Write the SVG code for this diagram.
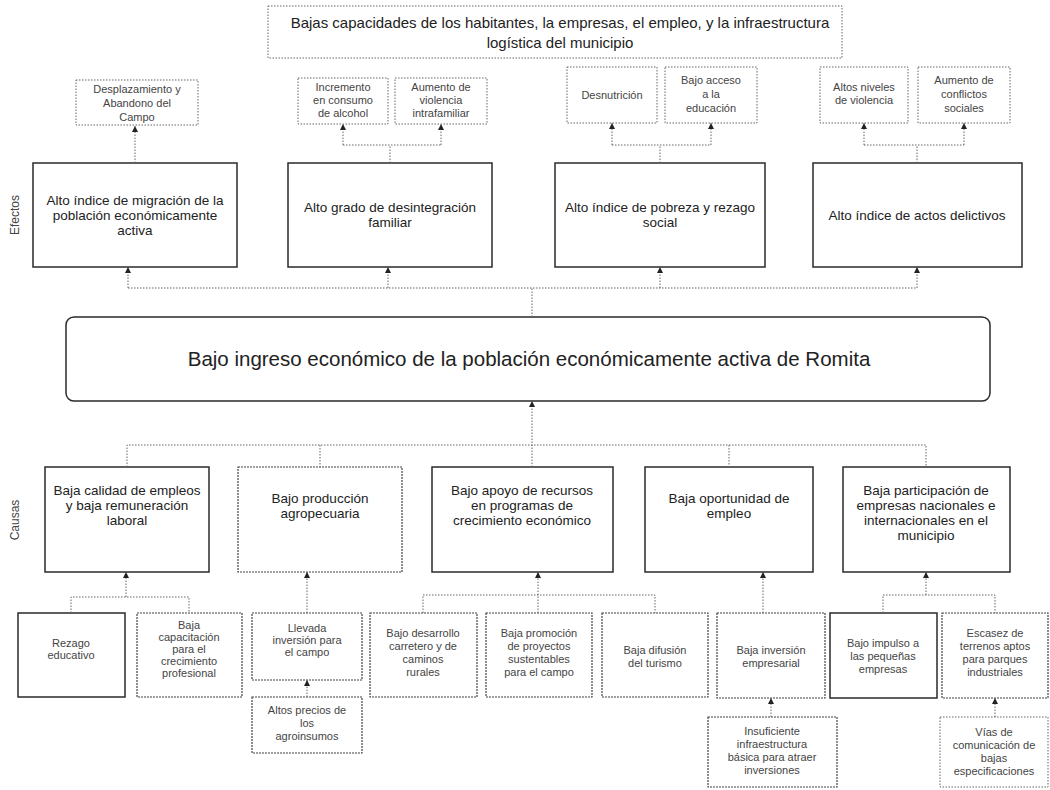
<svg xmlns="http://www.w3.org/2000/svg" width="1050" height="790" viewBox="0 0 1050 790">
<style>
.main{fill:#fff;stroke:#2a2a2a;stroke-width:1.5}
.sub{fill:#fff;stroke:#444;stroke-width:1.2;stroke-dasharray:2 1}
.light{fill:#fff;stroke:#666;stroke-width:1;stroke-dasharray:1.5 1.5}
.t13{font-family:"Liberation Sans",Arial,sans-serif;font-size:13.5px;fill:#222;text-anchor:middle}
.t15{font-family:"Liberation Sans",Arial,sans-serif;font-size:15px;fill:#222;text-anchor:middle}
.t11{font-family:"Liberation Sans",Arial,sans-serif;font-size:11px;fill:#444;text-anchor:middle}
.t20{font-family:"Liberation Sans",Arial,sans-serif;font-size:20.5px;fill:#222;text-anchor:middle}
.lbl{font-family:"Liberation Sans",Arial,sans-serif;font-size:12px;fill:#444;text-anchor:middle}
.conn path{fill:none;stroke:#666;stroke-width:1;stroke-dasharray:1.5 1.5}
.conn path.a{marker-end:url(#arr)}
</style>
<defs>
<marker id="arr" markerWidth="7" markerHeight="7" refX="6" refY="3" orient="auto" markerUnits="userSpaceOnUse">
<path d="M0,0 L6,3 L0,6 z" fill="#222"/>
</marker>
</defs>
<rect width="1050" height="790" fill="#fff"/>

<text class="lbl" transform="translate(19,215) rotate(-90)">Efectos</text>
<text class="lbl" transform="translate(19,520) rotate(-90)">Causas</text>

<g id="top">
<rect class="light" x="268" y="6" width="574" height="52"/>
<text class="t15" x="560" y="28">Bajas capacidades de los habitantes, la empresas, el empleo, y la infraestructura</text>
<text class="t15" x="560" y="48">logística del municipio</text>
</g>

<g id="e1a"><rect class="light" x="76" y="80" width="122" height="45"/>
<text class="t11" x="137" y="93">Desplazamiento  y</text><text class="t11" x="137" y="107">Abandono del</text><text class="t11" x="137" y="121">Campo</text></g>
<g id="e2a"><rect class="light" x="298" y="78" width="90" height="46"/>
<text class="t11" x="343" y="91">Incremento</text><text class="t11" x="343" y="104">en consumo</text><text class="t11" x="343" y="117">de alcohol</text></g>
<g id="e2b"><rect class="light" x="395" y="78" width="92" height="46"/>
<text class="t11" x="441" y="91">Aumento de</text><text class="t11" x="441" y="104">violencia</text><text class="t11" x="441" y="117">intrafamiliar</text></g>
<g id="e3a"><rect class="light" x="567" y="67" width="90" height="56"/>
<text class="t11" x="612" y="99">Desnutrición</text></g>
<g id="e3b"><rect class="light" x="665" y="67" width="92" height="56"/>
<text class="t11" x="711" y="84">Bajo acceso</text><text class="t11" x="711" y="98">a la</text><text class="t11" x="711" y="112">educación</text></g>
<g id="e4a"><rect class="light" x="820" y="67" width="88" height="56"/>
<text class="t11" x="864" y="91">Altos niveles</text><text class="t11" x="864" y="104">de violencia</text></g>
<g id="e4b"><rect class="light" x="918" y="67" width="92" height="56"/>
<text class="t11" x="964" y="84">Aumento de</text><text class="t11" x="964" y="98">conflictos</text><text class="t11" x="964" y="112">sociales</text></g>

<g id="e1"><rect class="main" x="33" y="163" width="204" height="104"/>
<text class="t13" x="135" y="205">Alto índice de migración de la</text><text class="t13" x="135" y="220">población económicamente</text><text class="t13" x="135" y="235">activa</text></g>
<g id="e2"><rect class="main" x="288" y="163" width="204" height="104"/>
<text class="t13" x="390" y="212">Alto grado de desintegración</text><text class="t13" x="390" y="227">familiar</text></g>
<g id="e3"><rect class="main" x="555" y="163" width="210" height="104"/>
<text class="t13" x="660" y="212">Alto índice de pobreza y rezago</text><text class="t13" x="660" y="227">social</text></g>
<g id="e4"><rect class="main" x="813" y="163" width="209" height="104"/>
<text class="t13" x="917" y="220">Alto índice de actos delictivos</text></g>

<g id="center"><rect class="main" x="66" y="317" width="924" height="84" rx="8"/>
<text class="t20" x="529" y="366">Bajo ingreso económico de la población económicamente activa de Romita</text></g>

<g id="c1"><rect class="main" x="45" y="467" width="164" height="105"/>
<text class="t13" x="127" y="495">Baja calidad de empleos</text><text class="t13" x="127" y="510">y baja remuneración</text><text class="t13" x="127" y="525">laboral</text></g>
<g id="c2"><rect class="sub" x="238" y="467" width="164" height="105"/>
<text class="t13" x="320" y="503">Bajo producción</text><text class="t13" x="320" y="518">agropecuaria</text></g>
<g id="c3"><rect class="main" x="432" y="467" width="181" height="105"/>
<text class="t13" x="522" y="495">Bajo apoyo de recursos</text><text class="t13" x="522" y="510">en programas de</text><text class="t13" x="522" y="525">crecimiento económico</text></g>
<g id="c4"><rect class="main" x="645" y="467" width="168" height="105"/>
<text class="t13" x="729" y="503">Baja oportunidad de</text><text class="t13" x="729" y="518">empleo</text></g>
<g id="c5"><rect class="main" x="843" y="467" width="167" height="105"/>
<text class="t13" x="926" y="495">Baja participación de</text><text class="t13" x="926" y="510">empresas nacionales e</text><text class="t13" x="926" y="525">internacionales en el</text><text class="t13" x="926" y="540">municipio</text></g>

<g id="s1"><rect class="main" x="18" y="613" width="107" height="84"/>
<text class="t11" x="71" y="647">Rezago</text><text class="t11" x="71" y="659">educativo</text></g>
<g id="s2"><rect class="sub" x="137" y="613" width="105" height="84"/>
<text class="t11" x="189" y="629">Baja</text><text class="t11" x="189" y="641">capacitación</text><text class="t11" x="189" y="653">para el</text><text class="t11" x="189" y="665">crecimiento</text><text class="t11" x="189" y="677">profesional</text></g>
<g id="s3"><rect class="sub" x="252" y="613" width="110" height="67"/>
<text class="t11" x="307" y="632">Llevada</text><text class="t11" x="307" y="644">inversión para</text><text class="t11" x="307" y="656">el campo</text></g>
<g id="s3b"><rect class="sub" x="252" y="697" width="110" height="56"/>
<text class="t11" x="307" y="714">Altos precios de</text><text class="t11" x="307" y="727">los</text><text class="t11" x="307" y="740">agroinsumos</text></g>
<g id="s4"><rect class="sub" x="370" y="613" width="107" height="84"/>
<text class="t11" x="423" y="637">Bajo desarrollo</text><text class="t11" x="423" y="650">carretero y de</text><text class="t11" x="423" y="663">caminos</text><text class="t11" x="423" y="676">rurales</text></g>
<g id="s5"><rect class="sub" x="486" y="613" width="106" height="84"/>
<text class="t11" x="539" y="637">Baja promoción</text><text class="t11" x="539" y="650">de proyectos</text><text class="t11" x="539" y="663">sustentables</text><text class="t11" x="539" y="676">para el campo</text></g>
<g id="s6"><rect class="sub" x="602" y="613" width="106" height="84"/>
<text class="t11" x="655" y="654">Baja difusión</text><text class="t11" x="655" y="667">del turismo</text></g>
<g id="s7"><rect class="sub" x="717" y="613" width="108" height="85"/>
<text class="t11" x="771" y="654">Baja inversión</text><text class="t11" x="771" y="667">empresarial</text></g>
<g id="s7b"><rect class="sub" x="708" y="717" width="129" height="70"/>
<text class="t11" x="772" y="735">Insuficiente</text><text class="t11" x="772" y="748">infraestructura</text><text class="t11" x="772" y="761">básica para atraer</text><text class="t11" x="772" y="774">inversiones</text></g>
<g id="s8"><rect class="main" x="830" y="613" width="107" height="85"/>
<text class="t11" x="883" y="647">Bajo impulso a</text><text class="t11" x="883" y="660">las pequeñas</text><text class="t11" x="883" y="673">empresas</text></g>
<g id="s9"><rect class="sub" x="942" y="613" width="106" height="85"/>
<text class="t11" x="995" y="637">Escasez de</text><text class="t11" x="995" y="650">terrenos aptos</text><text class="t11" x="995" y="663">para parques</text><text class="t11" x="995" y="676">industriales</text></g>
<g id="s9b"><rect class="light" x="940" y="717" width="108" height="70"/>
<text class="t11" x="994" y="736">Vías de</text><text class="t11" x="994" y="749">comunicación de</text><text class="t11" x="994" y="762">bajas</text><text class="t11" x="994" y="775">especificaciones</text></g>

<g id="connectors" class="conn">
<path class="a" d="M135,163 V126"/>
<path d="M390,163 V145"/><path d="M343,145 H441"/>
<path class="a" d="M343,145 V124"/><path class="a" d="M441,145 V124"/>
<path d="M660,163 V145"/><path d="M612,145 H711"/>
<path class="a" d="M612,145 V123"/><path class="a" d="M711,145 V123"/>
<path d="M917,163 V145"/><path d="M864,145 H964"/>
<path class="a" d="M864,145 V123"/><path class="a" d="M964,145 V123"/>
<path d="M532,317 V288"/><path d="M128,288 H917"/>
<path class="a" d="M128,288 V267"/><path class="a" d="M388,288 V267"/>
<path class="a" d="M660,288 V267"/><path class="a" d="M917,288 V267"/>
<path d="M127,467 V445 H926 V467"/>
<path d="M320,445 V467"/><path d="M729,445 V467"/>
<path class="a" d="M532,467 V401"/>
<path d="M71,613 V597 H189 V613"/>
<path class="a" d="M126,597 V572"/>
<path class="a" d="M307,613 V572"/>
<path class="a" d="M307,697 V680"/>
<path d="M423,613 V595 H655 V613"/>
<path class="a" d="M538,613 V572"/>
<path class="a" d="M763,613 V572"/>
<path class="a" d="M771,717 V698"/>
<path d="M883,613 V595 H995 V613"/>
<path class="a" d="M926,595 V572"/>
<path class="a" d="M995,717 V698"/>
</g>
</svg>
